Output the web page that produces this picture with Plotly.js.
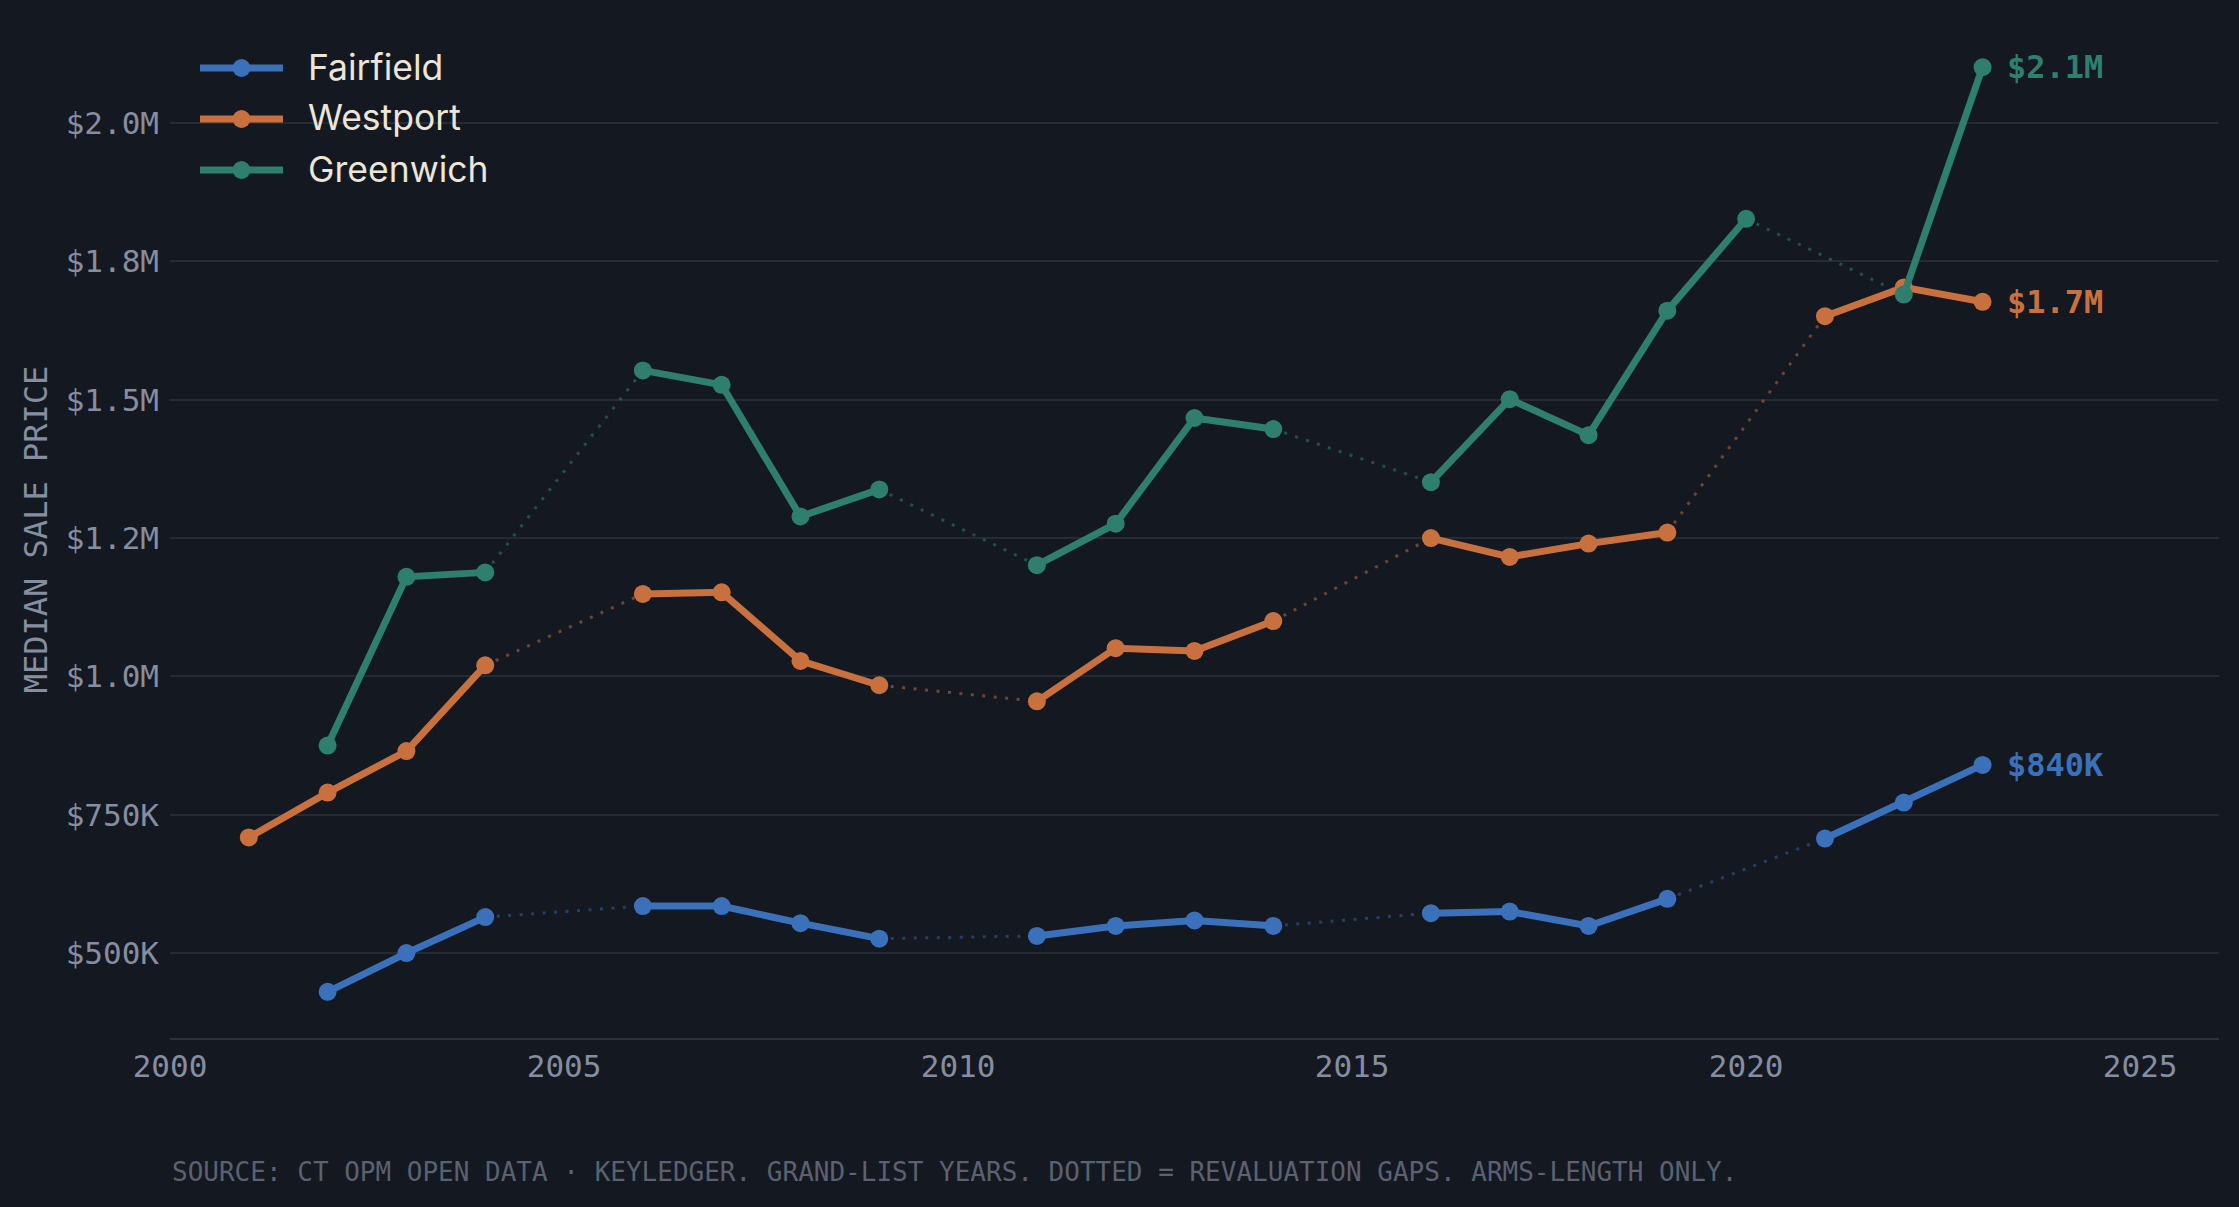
<!DOCTYPE html>
<html>
<head>
<meta charset="utf-8">
<script src="https://cdn.plot.ly/plotly-3.0.1.min.js"></script>
<style>
  html, body { margin: 0; padding: 0; background: #141821; }
  #chart { width: 2239px; height: 1207px; }
</style>
</head>
<body>
<div id="chart"></div>
<script>
const years = [2001, 2002, 2003, 2004, 2005, 2006, 2007, 2008, 2009, 2010, 2011, 2012,
               2013, 2014, 2015, 2016, 2017, 2018, 2019, 2020, 2021, 2022, 2023];
const fairfield = [null, 430000, 500000, 565000, null, 585000, 585000, 554000, 526000, null,
                   531000, 549000, 559000, 549000, null, 572000, 575000, 549000, 598000, null,
                   707000, 772000, 840000];
const westport = [709000, 790000, 865000, 1020000, null, 1149000, 1152000, 1028000, 984000, null,
                  955000, 1051000, 1046000, 1100000, null, 1250000, 1216000, 1240000, 1260000, null,
                  1651000, 1703000, 1677000];
const greenwich = [null, 875000, 1180000, 1188000, null, 1553000, 1527000, 1289000, 1338000, null,
                   1201000, 1276000, 1467000, 1447000, null, 1351000, 1501000, 1436000, 1661000, 1827000,
                   null, 1690000, 2101000];

const seriesNames = ['Fairfield', 'Westport', 'Greenwich'];
const seriesColors = ['#3a71ba', '#c9713e', '#2e7f6d'];
const gapColors = ['rgba(58,113,186,0.45)', 'rgba(201,113,62,0.5)', 'rgba(46,127,109,0.55)'];

const yTickVals = [500000, 750000, 1000000, 1250000, 1500000, 1750000, 2000000];
const yTickText = ['$500K', '$750K', '$1.0M', '$1.2M', '$1.5M', '$1.8M', '$2.0M'];
const xTickVals = [2000, 2005, 2010, 2015, 2020, 2025];

const sourceText = 'SOURCE: CT OPM OPEN DATA · KEYLEDGER. GRAND-LIST YEARS. DOTTED = REVALUATION GAPS. ARMS-LENGTH ONLY.';
const yTitle = 'MEDIAN SALE PRICE';

const allSeries = [fairfield, westport, greenwich];

// plot-area geometry (pixels) for the hand-made legend
const W = 2239, H = 1207;
const M = {l: 170, r: 20, t: 21, b: 169};
const plotW = W - M.l - M.r, plotH = H - M.t - M.b;
const px2x = p => (p - M.l) / plotW;
const px2y = p => (H - M.b - p) / plotH;

function gapSegments(vals) {
  const xs = [], ys = [];
  let prev = -1;
  for (let i = 0; i < vals.length; i++) {
    if (vals[i] === null) continue;
    if (prev >= 0 && i - prev > 1) {
      xs.push(years[prev], years[i], null);
      ys.push(vals[prev], vals[i], null);
    }
    prev = i;
  }
  return {xs, ys};
}

function fmt(v) {
  if (v >= 1e6) return '$' + (v / 1e6).toFixed(1) + 'M';
  return '$' + Math.round(v / 1000) + 'K';
}

const traces = [];
allSeries.forEach((vals, k) => {
  const g = gapSegments(vals);
  traces.push({
    x: g.xs, y: g.ys, type: 'scatter', mode: 'lines',
    line: {color: gapColors[k], width: 3, dash: '3px,8.5px'},
    showlegend: false, hoverinfo: 'skip', connectgaps: false
  });
});
allSeries.forEach((vals, k) => {
  traces.push({
    x: years, y: vals, type: 'scatter', mode: 'lines+markers',
    name: seriesNames[k],
    line: {color: seriesColors[k], width: 7},
    marker: {color: seriesColors[k], size: 18},
    connectgaps: false,
    showlegend: false
  });
});

const annotations = allSeries.map((vals, k) => {
  let last = vals.length - 1;
  while (vals[last] === null) last--;
  return {
    x: years[last], y: vals[last], xref: 'x', yref: 'y',
    text: fmt(vals[last]), showarrow: false,
    xanchor: 'left', yanchor: 'middle', xshift: 22,
    font: {family: 'DejaVu Sans Mono, monospace', size: 32, color: seriesColors[k], weight: 'bold'}
  };
});
annotations.push({
  x: 0, y: -0.1318, xref: 'paper', yref: 'paper',
  text: sourceText, showarrow: false, xanchor: 'left', yanchor: 'middle',
  font: {family: 'DejaVu Sans Mono, monospace', size: 26, color: '#5b6170'}
});

// legend (drawn as shapes + text)
const legendRowsPx = [68, 119, 170];
const shapes = [];
seriesNames.forEach((name, k) => {
  const yp = px2y(legendRowsPx[k]);
  shapes.push({
    type: 'line', xref: 'paper', yref: 'paper',
    x0: px2x(200), x1: px2x(283), y0: yp, y1: yp,
    line: {color: seriesColors[k], width: 7}
  });
  shapes.push({
    type: 'circle', xref: 'paper', yref: 'paper',
    xsizemode: 'pixel', ysizemode: 'pixel',
    xanchor: px2x(241.5), yanchor: yp,
    x0: -9, x1: 9, y0: -9, y1: 9,
    fillcolor: seriesColors[k], line: {width: 0}
  });
  annotations.push({
    x: px2x(306), y: yp, xref: 'paper', yref: 'paper',
    text: name, showarrow: false, xanchor: 'left', yanchor: 'middle', yshift: 1,
    font: {family: 'Inter, sans-serif', size: 35.5, color: '#ece6d8'}
  });
});

const layout = {
  width: W, height: H,
  paper_bgcolor: '#141821', plot_bgcolor: '#141821',
  margin: {l: M.l, r: M.r, t: M.t, b: M.b, pad: 0},
  showlegend: false,
  xaxis: {
    range: [2000, 2026], tickvals: xTickVals, ticks: '',
    showgrid: false, zeroline: false,
    showline: true, linecolor: '#2c313d', linewidth: 2,
    tickfont: {family: 'DejaVu Sans Mono, monospace', size: 31, color: '#858ea0'},
    ticklabelstandoff: 0
  },
  yaxis: {
    range: [346500, 2184500], tickvals: yTickVals, ticktext: yTickText, ticks: '',
    showgrid: true, gridcolor: '#252a35', gridwidth: 2,
    zeroline: false, showline: false,
    tickfont: {family: 'DejaVu Sans Mono, monospace', size: 31, color: '#858ea0'},
    ticklabelstandoff: 10,
    title: {text: yTitle, standoff: 8,
            font: {family: 'DejaVu Sans Mono, monospace', size: 32, color: '#858ea0'}}
  },
  shapes: shapes,
  annotations: annotations
};

Plotly.newPlot('chart', traces, layout, {displayModeBar: false, staticPlot: true});
</script>
</body>
</html>
